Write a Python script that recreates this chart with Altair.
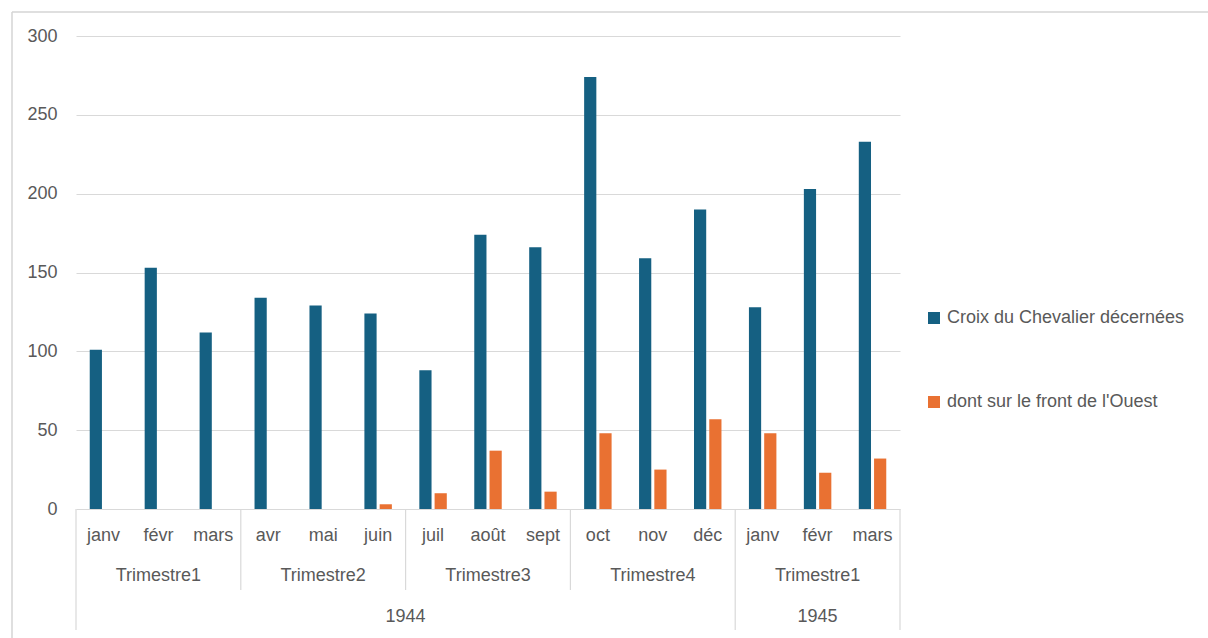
import altair as alt
import pandas as pd

# Monthly counts, Jan 1944 - Mar 1945
years = ["1944"] * 12 + ["1945"] * 3
quarters = (["Trimestre1"] * 3 + ["Trimestre2"] * 3 + ["Trimestre3"] * 3
            + ["Trimestre4"] * 3 + ["Trimestre1"] * 3)
months = ["janv", "févr", "mars", "avr", "mai", "juin", "juil", "août", "sept",
          "oct", "nov", "déc", "janv", "févr", "mars"]
croix = [101, 153, 112, 134, 129, 124, 88, 174, 166, 274, 159, 190, 128, 203, 233]
ouest = [None, None, None, None, None, 3, 10, 37, 11, 48, 25, 57, 48, 23, 32]

SERIES_A = "Croix du Chevalier décernées"
SERIES_B = "dont sur le front de l'Ouest"
BLUE = "#156082"
ORANGE = "#E97132"
GRID = "#d9d9d9"
TEXT = "#595959"
FONT = "Liberation Sans"

W, H = 824, 473

keys = [f"{y}-{q}-{m}" for y, q, m in zip(years, quarters, months)]
rows = []
for k, a, b in zip(keys, croix, ouest):
    rows.append({"key": k, "serie": SERIES_A, "valeur": a})
    rows.append({"key": k, "serie": SERIES_B, "valeur": b})
bars_df = pd.DataFrame(rows)

# Group spans on a 0..n index scale for the hierarchical category axis
def spans(labels_per_month, parents=None):
    out = []
    start = 0
    for i in range(1, len(labels_per_month) + 1):
        boundary = (i == len(labels_per_month)
                    or labels_per_month[i] != labels_per_month[i - 1]
                    or (parents is not None and parents[i] != parents[i - 1]))
        if boundary:
            out.append({"label": labels_per_month[i - 1], "start": start, "end": i,
                        "mid": (start + i) / 2})
            start = i
    return out

month_df = pd.DataFrame({"label": months,
                         "mid": [i + 0.5 for i in range(len(months))]})
quarter_df = pd.DataFrame(spans(quarters, years))
year_df = pd.DataFrame(spans(years))

year_edges = sorted(set(year_df["start"]).union(year_df["end"]))
quarter_edges = sorted(set(quarter_df["start"]).union(quarter_df["end"]) - set(year_edges))
long_sep = pd.DataFrame({"pos": year_edges})
short_sep = pd.DataFrame({"pos": quarter_edges})

n = len(months)
xq = alt.X("pos:Q", scale=alt.Scale(domain=[0, n], nice=False), axis=None)

bars = alt.Chart(bars_df).mark_bar().encode(
    x=alt.X("key:N", sort=keys, axis=None,
            scale=alt.Scale(paddingInner=0.5, paddingOuter=0.25)),
    xOffset=alt.XOffset("serie:N", sort=[SERIES_A, SERIES_B],
                        scale=alt.Scale(paddingInner=0.2)),
    y=alt.Y("valeur:Q", scale=alt.Scale(domain=[0, 300], nice=False),
            axis=alt.Axis(values=[0, 50, 100, 150, 200, 250, 300], title=None,
                          grid=True, gridColor=GRID, gridWidth=1.2,
                          domain=False, ticks=False, labelPadding=19,
                          labelFont=FONT, labelFontSize=18, labelColor=TEXT)),
    color=alt.Color("serie:N", sort=[SERIES_A, SERIES_B],
                    scale=alt.Scale(domain=[SERIES_A, SERIES_B], range=[BLUE, ORANGE]),
                    legend=alt.Legend(title=None, orient="none", legendX=849, legendY=273,
                                      symbolType="square", symbolSize=144,
                                      symbolStrokeWidth=0, rowPadding=66,
                                      labelFont=FONT, labelFontSize=18,
                                      labelColor=TEXT, labelOffset=4,
                                      labelLimit=400)),
)

month_text = alt.Chart(month_df).mark_text(
    font=FONT, fontSize=18, color=TEXT, baseline="middle"
).encode(x=alt.X("mid:Q", scale=alt.Scale(domain=[0, n], nice=False), axis=None),
         y=alt.value(500), text="label:N")

quarter_text = alt.Chart(quarter_df).mark_text(
    font=FONT, fontSize=18, color=TEXT, baseline="middle"
).encode(x=alt.X("mid:Q", axis=None), y=alt.value(540), text="label:N")

year_text = alt.Chart(year_df).mark_text(
    font=FONT, fontSize=18, color=TEXT, baseline="middle"
).encode(x=alt.X("mid:Q", axis=None), y=alt.value(581), text="label:N")

long_rules = alt.Chart(long_sep).mark_rule(color=GRID, strokeWidth=1.2).encode(
    x=xq, y=alt.value(H), y2=alt.value(594))
short_rules = alt.Chart(short_sep).mark_rule(color=GRID, strokeWidth=1.2).encode(
    x=xq, y=alt.value(H), y2=alt.value(554))

# Chart-area border (top and left edges)
frame_top = alt.Chart(pd.DataFrame({"pos": [0]})).mark_rule(color="#d4d4d4", strokeWidth=1.5).encode(
    x=alt.value(-64), x2=alt.value(1140), y=alt.value(-24))
frame_left = alt.Chart(pd.DataFrame({"pos": [0]})).mark_rule(color="#d4d4d4", strokeWidth=1.5).encode(
    x=alt.value(-64), y=alt.value(-24), y2=alt.value(610))

annot = alt.layer(month_text, quarter_text, year_text, long_rules, short_rules,
                  frame_top, frame_left)

chart = alt.layer(bars, annot).resolve_scale(x="independent").properties(
    width=W, height=H,
    autosize=alt.AutoSizeParams(type="none"),
    padding={"left": 76, "top": 36, "right": 308, "bottom": 129},
    background="white",
).configure_view(strokeWidth=0, stroke="transparent")

chart.save("out.html", embed_options={"renderer": "svg", "actions": False})
